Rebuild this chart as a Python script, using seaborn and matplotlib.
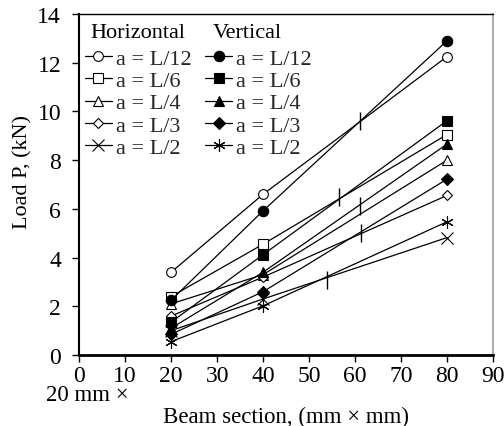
import matplotlib
matplotlib.use("Agg")
import matplotlib.pyplot as plt
import seaborn as sns
import pandas as pd

# ---------------- data ----------------
beam_section = [20, 40, 80]
labels = ["a = L/12", "a = L/6", "a = L/4", "a = L/3", "a = L/2"]

horiz_L12 = [3.40, 6.60, 12.25]
horiz_L6 = [2.40, 4.55, 9.05]
horiz_L4 = [2.10, 3.30, 8.00]
horiz_L3 = [1.60, 3.20, 6.55]
horiz_L2 = [1.00, 2.30, 4.82]

vert_L12 = [2.25, 5.92, 12.90]
vert_L6 = [1.35, 4.12, 9.62]
vert_L4 = [1.10, 3.40, 8.66]
vert_L3 = [0.85, 2.60, 7.22]
vert_L2 = [0.55, 2.02, 5.47]

cross_x = [61.0, 56.6, 61.0, 61.2, 53.8]
cross_y = [9.62, 6.47, 6.13, 5.01, 3.09]

x_ticks = [0, 10, 20, 30, 40, 50, 60, 70, 80, 90]
y_ticks = [0, 2, 4, 6, 8, 10, 12, 14]

horizontal = [horiz_L12, horiz_L6, horiz_L4, horiz_L3, horiz_L2]
vertical = [vert_L12, vert_L6, vert_L4, vert_L3, vert_L2]
asterisk = (6, 2, 0)
markers = ["o", "s", "^", "D", "x"]
v_markers = ["o", "s", "^", "D", asterisk]
msizes = [7, 7, 7, 5.5, 8]
v_msizes = [7.5, 7.5, 7.5, 6, 9]

# ---------------- style ----------------
sns.set_theme(style="ticks")
plt.rcParams["font.family"] = ["Liberation Serif", "DejaVu Serif"]

fig = plt.figure(figsize=(5.04, 4.27), dpi=100)
ax = fig.add_axes([79.2 / 504, 1 - 356 / 427, (493 - 79.2) / 504, (356 - 15) / 427])

h_handles = []
v_handles = []
for i in range(5):
    df = pd.DataFrame({"x": beam_section, "y": horizontal[i]})
    sns.lineplot(data=df, x="x", y="y", ax=ax, color="black", lw=0.9,
                 marker=markers[i], markersize=msizes[i],
                 markerfacecolor="white", markeredgecolor="black",
                 markeredgewidth=0.8, legend=False)
    h_handles.append(ax.lines[-1])
for i in range(5):
    df = pd.DataFrame({"x": beam_section, "y": vertical[i]})
    sns.lineplot(data=df, x="x", y="y", ax=ax, color="black", lw=0.9,
                 marker=v_markers[i], markersize=v_msizes[i],
                 markerfacecolor="black", markeredgecolor="black",
                 markeredgewidth=0.8, legend=False)
    v_handles.append(ax.lines[-1])

cross_df = pd.DataFrame({"x": cross_x, "y": cross_y})
sns.scatterplot(data=cross_df, x="x", y="y", ax=ax, marker="|", s=150,
                color="black", linewidth=1.0, legend=False)

ax.set_xlim(0, 90)
ax.set_ylim(0, 14)
ax.set_xticks(x_ticks)
ax.set_yticks(y_ticks)
ax.tick_params(axis="both", labelsize=17, colors="black", direction="out",
               length=5, width=1.0)
ax.tick_params(axis="x", pad=2.5)
ax.tick_params(axis="y", pad=8)

for side in ["left", "bottom", "top"]:
    ax.spines[side].set_color("black")
ax.spines["left"].set_linewidth(1.5)
ax.spines["bottom"].set_linewidth(2.0)
ax.spines["top"].set_linewidth(1.0)
ax.spines["right"].set_linewidth(1.2)
ax.spines["right"].set_color("#9a9a9a")
ax.spines["right"].set_visible(True)
ax.spines["top"].set_visible(True)

ax.set_xlabel("Beam section, (mm \u00d7 mm)", fontsize=16.5, color="black")
ax.xaxis.set_label_coords(0.5, -0.148)
ax.set_ylabel("Load P, (kN)", fontsize=16, color="black")
ax.yaxis.set_label_coords(-0.113, 0.54)

fig.text(87 / 504, 1 - 396 / 427, "20 mm \u00d7", fontsize=16.5, ha="center",
         va="center", color="black")

leg = ax.legend(h_handles + v_handles, labels + labels, ncol=2, frameon=False,
                loc="upper left", bbox_to_anchor=(0.013, 0.90),
                fontsize=16, borderpad=0, borderaxespad=0,
                handlelength=1.25, handletextpad=0.15, columnspacing=0.6,
                labelspacing=0.08, numpoints=1)
ax.text(0.028, 0.947, "Horizontal", transform=ax.transAxes, fontsize=16,
        ha="left", va="center", color="black")
ax.text(0.323, 0.947, "Vertical", transform=ax.transAxes, fontsize=16,
        ha="left", va="center", color="black")

fig.savefig("out.png", dpi=100)
